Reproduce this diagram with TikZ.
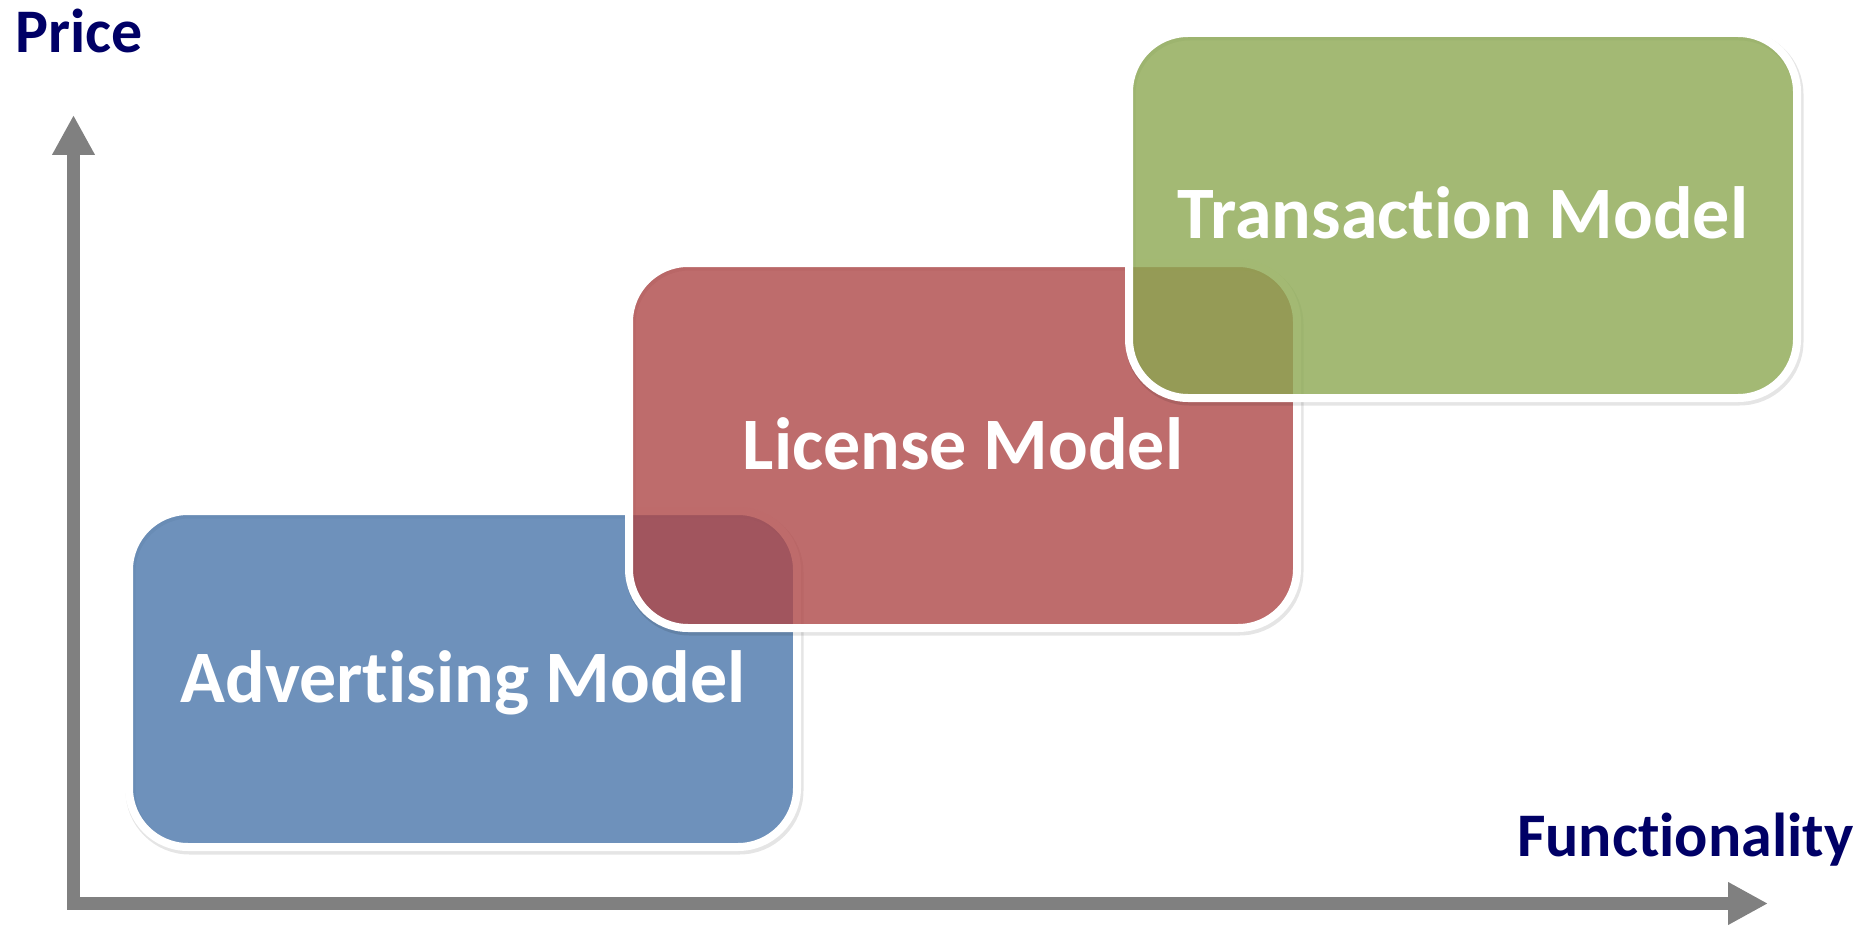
\documentclass[tikz,border=0pt]{standalone}
\usepackage{fontspec}
\setmainfont{Carlito}[Ligatures=NoCommon]
\usetikzlibrary{arrows.meta}
\definecolor{bluebase}{RGB}{74,118,170}
\definecolor{redbase}{RGB}{174,71,71}
\definecolor{greenbase}{RGB}{140,168,81}
\definecolor{axisgray}{RGB}{128,128,128}
\definecolor{navy}{RGB}{0,0,102}
\begin{document}
\begin{tikzpicture}[x=1pt,y=-1pt,
  modelbox/.style={rectangle, rounded corners=59pt, draw=white, line width=8pt,
    fill=#1, fill opacity=0.8, draw opacity=1, text opacity=1, text=white,
    font=\fontsize{74}{80}\selectfont\bfseries, text height=47pt, text depth=0pt,
    minimum width=668pt, inner sep=0pt, outer sep=0pt,
    preaction={draw=black, draw opacity=0.10, line width=10pt,
      transform canvas={shift={(1.5pt,-2.5pt)}}}},
  axislabel/.style={font=\fontsize{62}{70}\selectfont\bfseries, text=navy, inner sep=0pt, anchor=base west},
  axis/.style={draw=axisgray, line width=13pt, line cap=rect,
    -{Triangle[width=40pt,length=40pt]}}]
\useasboundingbox (0,0) rectangle (1866,928);
% axes
\coordinate (O) at (73.5,903.5);
\coordinate (Ytip) at (73.5,115);
\coordinate (Xtip) at (1768,903.5);
\draw[axis] (O) -- (Ytip);
\draw[axis] (O) -- (Xtip);
% axis labels
\node[axislabel] (price) at (15,53) {Price};
\node[axislabel] (func) at (1517,856) {Functionality};
% model boxes
\node[modelbox=bluebase, minimum height=336pt] (adv) at (463,679) {Advertising Model};
\node[modelbox=redbase, minimum height=365pt] (lic) at (963,445.5) {License Model};
\node[modelbox=greenbase, minimum height=365pt] (trans) at (1463,215.5) {Transaction Model};
\end{tikzpicture}
\end{document}
